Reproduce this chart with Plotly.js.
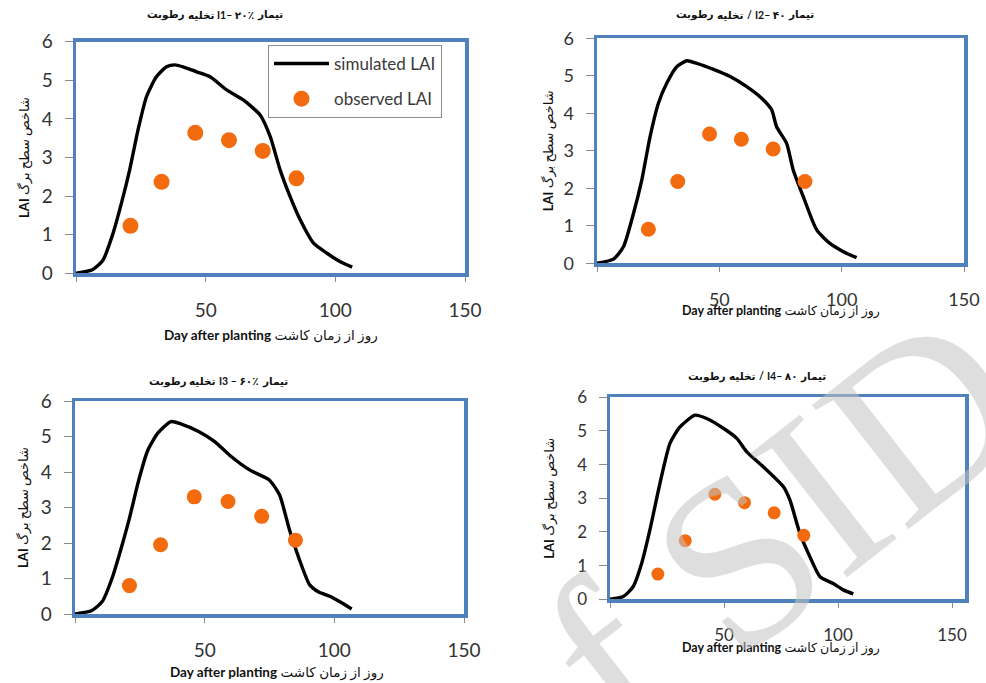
<!DOCTYPE html>
<html>
<head>
<meta charset="utf-8">
<script src="https://cdn.plot.ly/plotly-3.0.1.min.js"></script>
<style>
  html, body { margin: 0; padding: 0; background: #ffffff; }
  #chart { width: 986px; height: 683px; }
</style>
</head>
<body>
<div id="chart"></div>
<script>
// ---------- data ----------
// panel titles (right-to-left Persian), given as word groups in visual left-to-right order
const panelTitle1 = ["رطوبت", "تخلیه", "I1– ۲۰٪", "تیمار"];
const panelTitle2 = ["رطوبت", "تخلیه", "/", "I2– ۴۰", "تیمار"];
const panelTitle3 = ["رطوبت", "تخلیه", "I3 – ۶۰٪", "تیمار"];
const panelTitle4 = ["رطوبت", "تخلیه", "/", "I4– ۸۰", "تیمار"];
const xTitle = "<b>Day after planting</b> روز از زمان کاشت";
const yTitle = "<b>LAI</b> شاخص سطح برگ";
const xTickVals = [0, 50, 100, 150];
const xTickText = ["", "50", "100", "150"];
const yTickVals = [0, 1, 2, 3, 4, 5, 6];

// I1 (20%)
const simDays1 = [0, 6.5, 10.4, 14.3, 17.5, 20.7, 23.9, 27.2, 31, 34.9, 38.1, 41.3, 46.5, 51.7, 58.1, 64.5, 71, 74.9, 78.7, 82.6, 86.5, 91.6, 96.8, 101.9, 106.5];
const simLai1  = [0, 0.10, 0.34, 1.04, 1.81, 2.68, 3.71, 4.58, 5.09, 5.35, 5.40, 5.35, 5.22, 5.09, 4.75, 4.49, 4.10, 3.54, 2.68, 1.98, 1.38, 0.78, 0.52, 0.30, 0.16];
const obsDays1 = [21, 33, 46, 59, 72, 85];
const obsLai1  = [1.23, 2.37, 3.64, 3.45, 3.17, 2.46];

// I2 (40%)
const simDays2 = [0, 6.7, 10.8, 14.9, 18.3, 21.7, 25.1, 28.5, 32.6, 36.7, 40.8, 47.6, 54.4, 61.2, 67.3, 71.4, 73.4, 77.5, 80.2, 84.3, 89.8, 95.2, 100.7, 106.1];
const simLai2  = [0, 0.11, 0.44, 1.33, 2.22, 3.38, 4.27, 4.80, 5.24, 5.40, 5.33, 5.17, 4.98, 4.71, 4.40, 4.09, 3.64, 3.20, 2.49, 1.78, 0.89, 0.53, 0.31, 0.15];
const obsDays2 = [21, 33, 46, 59, 72, 85];
const obsLai2  = [0.91, 2.18, 3.45, 3.31, 3.05, 2.18];

// I3 (60%)
const simDays3 = [0, 6.5, 10.5, 14.5, 18, 21, 24.5, 28, 32, 37, 41, 48, 54, 59.5, 67.3, 75, 78.9, 82.7, 86.6, 90.5, 94, 98.2, 102, 106.7];
const simLai3  = [0, 0.10, 0.35, 1.05, 1.90, 2.70, 3.75, 4.60, 5.10, 5.42, 5.35, 5.13, 4.85, 4.48, 4.06, 3.77, 3.35, 2.37, 1.52, 0.82, 0.62, 0.50, 0.35, 0.14];
const obsDays3 = [21, 33, 46, 59, 72, 85];
const obsLai3  = [0.80, 1.95, 3.30, 3.17, 2.75, 2.08];

// I4 (80%)
const simDays4 = [0, 5.8, 10.2, 13.9, 17.5, 21.9, 26.3, 30.7, 37.3, 42.4, 49.7, 55.6, 60, 67.2, 76, 78.9, 83.3, 87.7, 92.1, 97.9, 102.3, 106.7];
const simLai4  = [0, 0.08, 0.38, 1.07, 2.06, 3.44, 4.63, 5.12, 5.47, 5.37, 5.08, 4.78, 4.38, 3.94, 3.35, 2.95, 1.96, 1.26, 0.67, 0.47, 0.28, 0.16];
const obsDays4 = [21, 33, 46, 59, 72, 85];
const obsLai4  = [0.75, 1.74, 3.12, 2.87, 2.57, 1.90];

const seriesNames = ["simulated LAI", "observed LAI"];
const watermarkText = "of SID";

// ---------- layout helpers ----------
const W = 986, H = 683;
const fx = p => p / W;
const fy = p => 1 - p / H;
const BLUE = "#4F81BD";
const ORANGE = "#F26B0F";
const FONT = "Lato, 'DejaVu Sans', sans-serif";

const sims = [[simDays1, simLai1], [simDays2, simLai2], [simDays3, simLai3], [simDays4, simLai4]];
const obs  = [[obsDays1, obsLai1], [obsDays2, obsLai2], [obsDays3, obsLai3], [obsDays4, obsLai4]];
const titles = [panelTitle1, panelTitle2, panelTitle3, panelTitle4];

// panel boxes in pixels
const boxes = [
  {l: 76,  r: 465, t: 41.7, b: 273.3, xmax: 150,   tick: 19, mk: 16, ts: 12, ystand: 10, xt: [271, 335], xts: 13.5, tt: [215, 15]},
  {l: 597, r: 964, t: 38.3, b: 263.3, xmax: 150,   tick: 18, mk: 15, ts: 13, ystand: 8,  xt: [781, 311], xts: 12.5, tt: [745, 15]},
  {l: 75,  r: 464, t: 401,  b: 614,   xmax: 150,   tick: 19, mk: 15, ts: 12, ystand: 10, xt: [277, 672], xts: 13.5, tt: [218, 381]},
  {l: 610, r: 965, t: 397.3,b: 599.3, xmax: 155.7, tick: 17, mk: 13, ts: 13, ystand: 20, xt: [781, 648], xts: 12.5, tt: [757, 376]}
];

const data = [];
const layout = {
  width: W, height: H,
  margin: {l: 0, r: 0, t: 0, b: 0},
  paper_bgcolor: "#ffffff",
  plot_bgcolor: "#ffffff",
  showlegend: true,
  font: {family: FONT, color: "#333333"},
  legend: {
    x: fx(268), y: fy(45), xanchor: "left", yanchor: "top",
    bgcolor: "#ffffff", bordercolor: "#8c8c8c", borderwidth: 1,
    font: {family: FONT, size: 17, color: "#3a3a3a"},
    itemwidth: 55, tracegroupgap: 10, traceorder: "grouped"
  },
  annotations: []
};

// text measuring for placing title word groups side by side
const ctx = document.createElement("canvas").getContext("2d");
const TITLE_SIZE = 10.5;
function textWidth(t) {
  ctx.font = "bold " + TITLE_SIZE + "px " + FONT;
  return ctx.measureText(t).width;
}

boxes.forEach((b, i) => {
  const n = i + 1;
  const xa = "x" + (n === 1 ? "" : n);
  const ya = "y" + (n === 1 ? "" : n);
  data.push({
    x: sims[i][0], y: sims[i][1], xaxis: xa, yaxis: ya,
    type: "scatter", mode: "lines", name: seriesNames[0],
    line: {color: "#000000", width: 3.4, shape: "spline", smoothing: 0.6},
    showlegend: i === 0, legendgroup: "sim", hoverinfo: "skip"
  });
  data.push({
    x: obs[i][0], y: obs[i][1], xaxis: xa, yaxis: ya,
    type: "scatter", mode: "markers", name: seriesNames[1],
    marker: {color: ORANGE, size: b.mk},
    showlegend: i === 0, legendgroup: "obs", hoverinfo: "skip"
  });
  const xKey = "xaxis" + (n === 1 ? "" : n);
  const yKey = "yaxis" + (n === 1 ? "" : n);
  layout[xKey] = {
    domain: [fx(b.l), fx(b.r)], range: [0, b.xmax], anchor: ya,
    showline: true, mirror: true, linecolor: BLUE, linewidth: 3.5,
    showgrid: false, zeroline: false,
    tickmode: "array", tickvals: xTickVals, ticktext: xTickText,
    ticks: "outside", ticklen: 5, tickcolor: "#8a8a8a", tickwidth: 1,
    ticklabelstandoff: b.ts,
    tickfont: {family: FONT, size: b.tick, color: "#333333"},
    automargin: false, fixedrange: true
  };
  layout[yKey] = {
    domain: [fy(b.b), fy(b.t)], range: [0, 6], anchor: xa,
    showline: true, mirror: true, linecolor: BLUE, linewidth: 3.5,
    showgrid: false, zeroline: false,
    tickmode: "array", tickvals: yTickVals,
    ticks: "outside", ticklen: 8, tickcolor: "#8a8a8a", tickwidth: 1,
    ticklabelstandoff: 8,
    tickfont: {family: FONT, size: b.tick, color: "#333333"},
    title: {text: yTitle, standoff: b.ystand, font: {family: FONT, size: 13, color: "#111111"}},
    automargin: false, fixedrange: true
  };
  // x-axis title (placed as in the reference, touching the tick labels)
  layout.annotations.push({
    text: xTitle, xref: "paper", yref: "paper",
    x: fx(b.xt[0]), y: fy(b.xt[1]), xanchor: "center", yanchor: "middle",
    showarrow: false, font: {family: FONT, size: b.xts, color: "#111111"}
  });
  // panel title: word groups laid out left to right
  const parts = titles[i];
  const gap = 3.2;
  const widths = parts.map(textWidth);
  const total = widths.reduce((a, c) => a + c, 0) + gap * (parts.length - 1);
  let cx = b.tt[0] - total / 2;
  parts.forEach((p, k) => {
    layout.annotations.push({
      text: "<b>" + p + "</b>", xref: "paper", yref: "paper",
      x: fx(cx + widths[k] / 2), y: fy(b.tt[1]), xanchor: "center", yanchor: "middle",
      showarrow: false, font: {family: FONT, size: TITLE_SIZE, color: "#111111"}
    });
    cx += widths[k] + gap;
  });
});

// watermark
layout.annotations.push({
  text: watermarkText, xref: "paper", yref: "paper",
  x: fx(735), y: fy(562), xanchor: "center", yanchor: "middle",
  showarrow: false, textangle: -38,
  font: {family: "'Liberation Serif', serif", size: 240, color: "rgba(195,195,195,0.55)"}
});

Plotly.newPlot("chart", data, layout, {staticPlot: true, displayModeBar: false});
</script>
</body>
</html>
